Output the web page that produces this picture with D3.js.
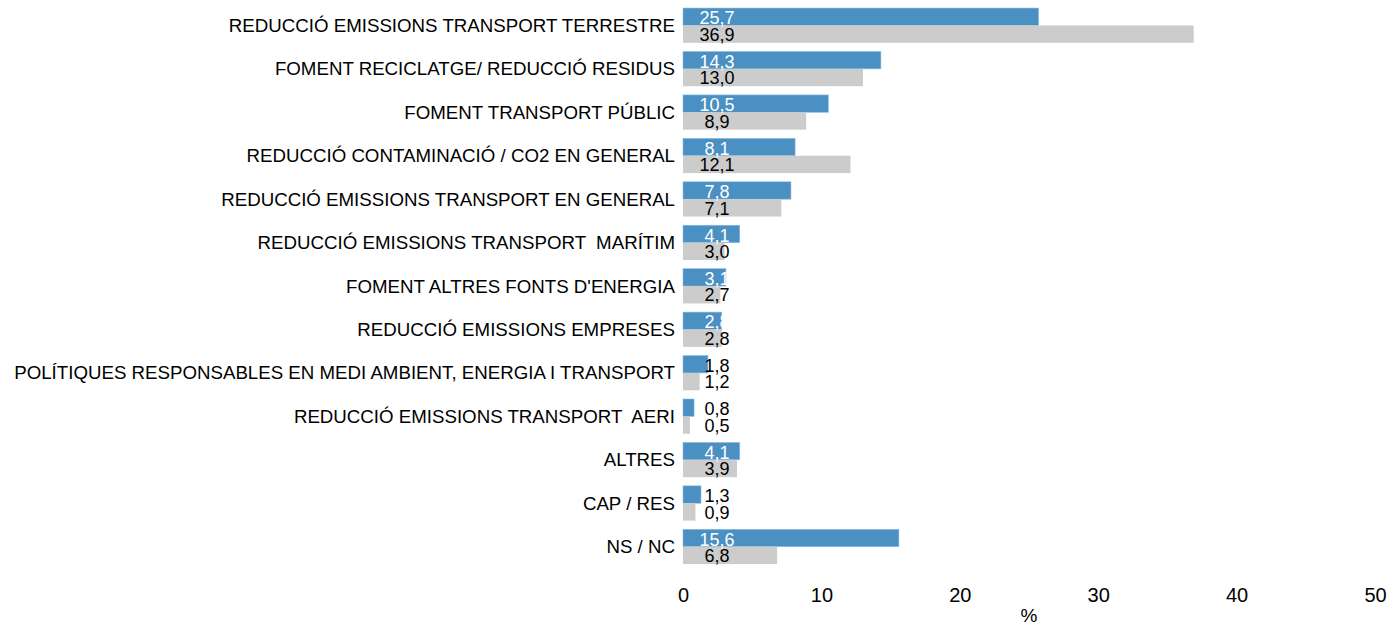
<!DOCTYPE html>
<html>
<head>
<meta charset="utf-8">
<script src="https://cdn.jsdelivr.net/npm/d3@7"></script>
<style>
  body { margin: 0; background: #fff; }
  svg text { font-family: "Liberation Sans", Arial, sans-serif; white-space: pre; }
</style>
</head>
<body>
<svg id="chart" width="1391" height="625"></svg>
<script>
'use strict';

const categories = [
    'REDUCCIÓ EMISSIONS TRANSPORT TERRESTRE',
    'FOMENT RECICLATGE/ REDUCCIÓ RESIDUS',
    'FOMENT TRANSPORT PÚBLIC',
    'REDUCCIÓ CONTAMINACIÓ / CO2 EN GENERAL',
    'REDUCCIÓ EMISSIONS TRANSPORT EN GENERAL',
    'REDUCCIÓ EMISSIONS TRANSPORT  MARÍTIM',
    "FOMENT ALTRES FONTS D'ENERGIA",
    'REDUCCIÓ EMISSIONS EMPRESES',
    'POLÍTIQUES RESPONSABLES EN MEDI AMBIENT, ENERGIA I TRANSPORT',
    'REDUCCIÓ EMISSIONS TRANSPORT  AERI',
    'ALTRES',
    'CAP / RES',
    'NS / NC'
];
const seriesBlue = [25.7, 14.3, 10.5, 8.1, 7.8, 4.1, 3.1, 2.8, 1.8, 0.8, 4.1, 1.3, 15.6];
const seriesGrey = [36.9, 13.0, 8.9, 12.1, 7.1, 3.0, 2.7, 2.8, 1.2, 0.5, 3.9, 0.9, 6.8];
const xTicks = [0, 10, 20, 30, 40, 50];

const BLUE = '#4a90c2';
const GREY = '#cccccc';

const svg = d3.select('#chart');

const x = d3.scaleLinear().domain([0, 50]).range([683, 1375]);
const y = d3.scaleBand()
    .domain(categories)
    .range([3.7, 568.4])
    .paddingInner(0.2)
    .paddingOuter(0.1);
const sub = d3.scaleBand()
    .domain(['blue', 'grey'])
    .range([0, y.bandwidth()]);

const rows = categories.map(function(c, i) {
    return { cat: c, blue: seriesBlue[i], grey: seriesGrey[i] };
});

const fmt = function(v) {
    return d3.format('.1f')(v).replace('.', ',');
};

const g = svg.append('g');

const row = g.selectAll('.row')
    .data(rows)
    .enter()
    .append('g')
    .attr('class', 'row')
    .attr('transform', function(d) {
        return 'translate(0,' + y(d.cat) + ')';
    });

// category labels
row.append('text')
    .attr('x', 675)
    .attr('y', y.bandwidth() / 2)
    .attr('dy', '0.35em')
    .attr('text-anchor', 'end')
    .attr('font-size', 18.7)
    .attr('fill', '#000')
    .text(function(d) { return d.cat; });

// bars
row.append('rect')
    .attr('x', x(0))
    .attr('y', sub('blue'))
    .attr('width', function(d) { return x(d.blue) - x(0); })
    .attr('height', sub.bandwidth())
    .attr('fill', BLUE)
    .attr('stroke', '#8fbde0')
    .attr('stroke-width', 0.6);

row.append('rect')
    .attr('x', x(0))
    .attr('y', sub('grey'))
    .attr('width', function(d) { return x(d.grey) - x(0); })
    .attr('height', sub.bandwidth())
    .attr('fill', GREY);

// value labels
row.append('text')
    .attr('x', 717)
    .attr('y', sub('blue') + sub.bandwidth() - 1)
    .attr('text-anchor', 'middle')
    .attr('font-size', 18)
    .attr('fill', function(d) { return d.blue >= 2 ? '#fff' : '#000'; })
    .text(function(d) { return fmt(d.blue); });

row.append('text')
    .attr('x', 717)
    .attr('y', sub('grey') + sub.bandwidth() - 2)
    .attr('text-anchor', 'middle')
    .attr('font-size', 18)
    .attr('fill', '#000')
    .text(function(d) { return fmt(d.grey); });

// x axis (labels only)
const axis = svg.append('g')
    .attr('transform', 'translate(0,580)')
    .call(d3.axisBottom(x).tickValues(xTicks).tickSize(0).tickPadding(0));
axis.select('.domain').remove();
axis.selectAll('text')
    .attr('y', 22)
    .attr('dy', null)
    .attr('font-size', 20)
    .attr('fill', '#000')
    .style('font-family', '"Liberation Sans", Arial, sans-serif');

svg.append('text')
    .attr('x', (x(0) + x(50)) / 2)
    .attr('y', 622)
    .attr('text-anchor', 'middle')
    .attr('font-size', 19)
    .attr('fill', '#000')
    .text('%');
</script>
</body>
</html>
